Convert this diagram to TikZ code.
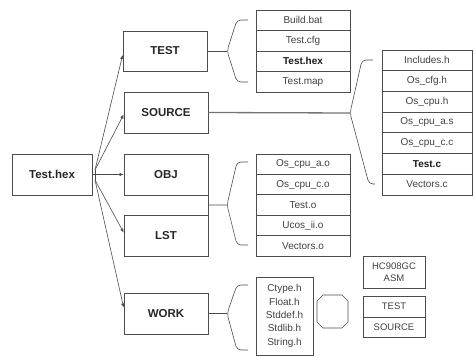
\documentclass[tikz,border=0pt]{standalone}
\usepackage{fontspec}
\setmainfont{Liberation Sans}
\usetikzlibrary{arrows.meta,calc}
\begin{document}
\begin{tikzpicture}[x=1pt,y=-1pt,
  box/.style={draw=black!70, line width=0.7pt, minimum width=84pt, minimum height=40pt,
    inner sep=0pt, font=\fontsize{11.5}{13}\selectfont\bfseries, text=black!85},
  item/.style={draw=black!70, line width=0.6pt, minimum height=20.5pt, inner sep=0pt,
    font=\fontsize{10}{12}\selectfont, text=black!75},
  conn/.style={draw=black!70, line width=0.6pt},
  arr/.style={conn, -{Latex[length=4pt,width=3.5pt]}}]
\useasboundingbox (0,0) rectangle (475,358);

% main boxes
\node[box, minimum width=80pt, minimum height=41pt] (hex) at (52,174.5) {Test.hex};
\node[box] (test) at (165,51) {TEST};
\node[box, minimum height=41pt] (source) at (166,112.5) {SOURCE};
\node[box, minimum height=41pt] (obj) at (166,174.5) {OBJ};
\node[box, minimum height=41pt] (lst) at (166,235.5) {LST};
\node[box, minimum height=41pt] (work) at (166,313.5) {WORK};

% fan of arrows
\coordinate (fanA) at (95,170);
\coordinate (fanB) at (95,180);
\draw[conn] (fanA) -- (fanB);
\draw[arr] (fanA) -- ([yshift=-4pt]test.west);
\draw[arr] (fanA) -- ([yshift=-2pt]source.west);
\draw[arr] (hex.east) -- (obj.west);
\draw[arr] (fanB) -- ([yshift=3pt]lst.west);
\draw[arr] (fanB) -- ([yshift=6pt]work.west);

% TEST list
\foreach \t [count=\i] in {Build.bat,Test.cfg,{\bfseries\color{black!90}Test.hex},Test.map}
  \node[item, minimum width=94pt] (tl\i) at (303,{10+20.5*(\i-0.5)}) {\t};
% SOURCE list
\foreach \t [count=\i] in {Includes.h,Os\_cfg.h,Os\_cpu.h,Os\_cpu\_a.s,Os\_cpu\_c.c,{\bfseries\color{black!90}Test.c},Vectors.c}
  \node[item, minimum width=90pt, minimum height=20.7pt] (sl\i) at (427,{50+20.7*(\i-0.5)}) {\t};
% OBJ list
\foreach \t [count=\i] in {Os\_cpu\_a.o,Os\_cpu\_c.o,Test.o,Ucos\_ii.o,Vectors.o}
  \node[item, minimum width=94pt, minimum height=20.4pt] (ol\i) at (303,{154+20.4*(\i-0.5)}) {\t};

% WORK list
\node[item, minimum width=57pt, minimum height=78pt, align=center,
      font=\fontsize{10}{13.3}\selectfont] (wl) at (284.5,316)
  {Ctype.h\\Float.h\\Stddef.h\\Stdlib.h\\String.h};
% octagon
\draw[conn] (317,301) -- (323,295) -- (342,295) -- (348,301) -- (348,322) -- (342,328)
  -- (323,328) -- (317,322) -- cycle;
\node[item, minimum width=62pt, minimum height=32pt, align=center,
      font=\fontsize{9.5}{12}\selectfont] (hc) at (394,272) {HC908GC\\ASM};
\node[item, minimum width=62pt, minimum height=21pt, font=\fontsize{9.5}{12}\selectfont] (ts1) at (394,306.5) {TEST};
\node[item, minimum width=62pt, minimum height=20pt, font=\fontsize{9.5}{12}\selectfont] (ts2) at (394,327) {SOURCE};

% braces
\coordinate (bt) at (227,51);
\draw[conn] (test.east) -- (bt);
\draw[conn, rounded corners=4pt] (248,20) -- (237,20) -- (bt) -- (237,82) -- (248,82);

\coordinate (bs) at (350,113);
\draw[draw=black!55, line width=1.3pt] (source.east) -- (bs);
\draw[conn, rounded corners=4pt] (373,60) -- (362,60) -- (bs) -- (369,184) -- (375,184);

\coordinate (bo) at (227,205);
\draw[conn] (obj.south east) -- (lst.north east);
\draw[conn] ($(obj.south east)!0.5!(lst.north east)$) -- (bo);
\draw[conn, rounded corners=4pt] (248,162) -- (237,162) -- (bo) -- (237,245) -- (248,245);

\coordinate (bw) at (227,313.5);
\draw[conn] (work.east) -- (bw);
\draw[conn, rounded corners=4pt] (248,285) -- (237,285) -- (bw) -- (237,350) -- (248,350);
\end{tikzpicture}
\end{document}
